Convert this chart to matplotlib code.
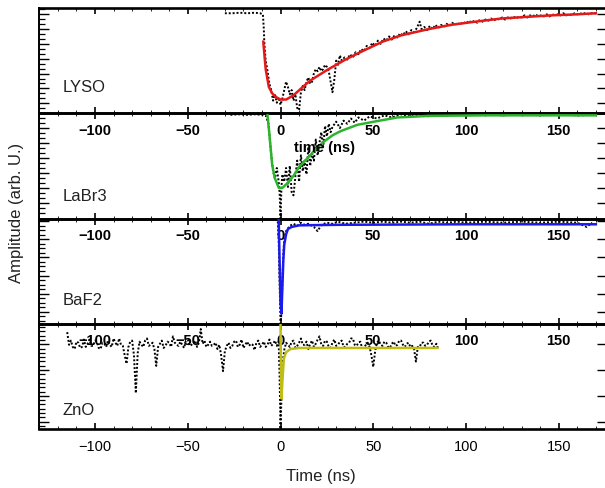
import matplotlib
matplotlib.use('Agg')
import matplotlib.pyplot as plt
import numpy as np
from matplotlib.ticker import FixedLocator, MultipleLocator

plt.rcParams['font.family'] = ['Liberation Sans', 'DejaVu Sans']

# ---------------- data (panel-normalised amplitude, 0 = bottom, 1 = top) ----------------
panel_names = ["LYSO", "LaBr3", "BaF2", "ZnO"]
x_ticks = [-100, -50, 0, 50, 100, 150]

lyso_t = [-30, -26, -22, -18, -14, -11, -9.5, -9, -8.7, -8, -7, -6, -5, -4, -3, -2, -1, 0, 1, 2, 3, 4, 5,
          6, 7, 8, 9, 10, 11, 12, 13, 14, 15, 16, 17, 18, 19, 20, 21, 22, 23, 24, 25, 26, 27, 28, 29, 30,
          31, 32,
          33, 34.5, 36, 37.5, 39, 40.5, 42, 43.5, 45, 46.5, 48, 49.5, 51, 52.5, 54, 55.5, 57, 58.5, 60,
          61.5, 63, 64.5, 66, 67.5, 69, 70.5, 72, 73.5, 75, 76, 77.5, 79, 80.5, 82, 83.5, 85, 86.5, 88,
          89.5, 91, 92.5, 94, 95.5, 97, 98.5, 100, 101.5, 103, 104.5, 106, 107.5, 109, 110.5, 112, 113.5,
          115, 116.5, 118, 119.5, 121, 122.5, 124, 125.5, 127, 128.5, 130, 131.5, 133, 134.5, 136, 137.5,
          139, 140.5, 142, 143.5, 145, 146.5, 148, 149.5, 151, 152.5, 154, 155.5, 157, 158.5, 160, 161.5,
          163, 164.5, 166, 167.5, 169, 170]
lyso_y = [0.95, 0.95, 0.955, 0.95, 0.955, 0.95, 0.94, 0.80, 0.66, 0.50, 0.40, 0.28, 0.22, 0.12, 0.18,
          0.10, 0.15, 0.08, 0.14, 0.22, 0.30, 0.25, 0.18, 0.22, 0.12, 0.18, 0.05, 0.03, 0.20, 0.26, 0.22,
          0.30, 0.34, 0.28, 0.30, 0.38, 0.42, 0.40, 0.44, 0.40, 0.42, 0.46, 0.44, 0.40, 0.30, 0.20, 0.32,
          0.50, 0.46, 0.55,
          0.50, 0.53, 0.51, 0.56, 0.53, 0.58, 0.56, 0.61, 0.59, 0.64, 0.62, 0.67, 0.64, 0.69, 0.66, 0.71,
          0.69, 0.73, 0.70, 0.74, 0.72, 0.76, 0.74, 0.78, 0.75, 0.79, 0.77, 0.81, 0.87, 0.80, 0.82, 0.79,
          0.83, 0.80, 0.84, 0.81, 0.84, 0.82, 0.85, 0.83, 0.86, 0.84, 0.86, 0.84, 0.87, 0.85, 0.88, 0.86,
          0.88, 0.86, 0.89, 0.87, 0.89, 0.88, 0.90, 0.88, 0.90, 0.89, 0.91, 0.89, 0.91, 0.90, 0.92, 0.90,
          0.92, 0.91, 0.93, 0.91, 0.93, 0.92, 0.94, 0.92, 0.93, 0.92, 0.94, 0.92, 0.94, 0.93, 0.94, 0.93,
          0.95, 0.93, 0.94, 0.93, 0.95, 0.94, 0.95, 0.94, 0.955, 0.94, 0.95, 0.945, 0.95]
lyso_fit_t = [-9.3, -8, -6.3, -4.5, -3, 0, 3, 7, 12, 16, 25, 35, 43, 55, 65, 80, 92, 105, 119, 132, 146, 160, 170]
lyso_fit_y = [0.68, 0.42, 0.25, 0.19, 0.16, 0.13, 0.13, 0.17, 0.25, 0.31, 0.41, 0.51, 0.58, 0.68, 0.74,
              0.80, 0.84, 0.87, 0.90, 0.915, 0.93, 0.94, 0.95]

labr_t = [-27, -22, -18, -14, -10, -8, -6.5, -5, -4, -3, -2, -1, -0.5, 0, 0.5, 1, 2, 3, 4, 5, 6, 7, 8, 9,
          10, 11, 12, 13, 14, 15, 16, 17, 18, 19, 20, 21, 22, 23, 24, 25, 26, 27, 28, 30, 32, 34, 36, 38,
          40, 42, 45, 48, 52, 56, 60, 65, 70, 75, 80, 85, 90, 95, 100, 110, 120, 130, 140, 150, 160, 170]
labr_y = [0.985, 0.99, 0.985, 0.99, 0.985, 0.98, 0.9, 0.6, 0.45, 0.38, 0.48, 0.35, 0.25, 0.0, 0.3, 0.42,
          0.35, 0.48, 0.3, 0.5, 0.25, 0.22, 0.4, 0.55, 0.35, 0.6, 0.45, 0.55, 0.42, 0.68, 0.5, 0.62, 0.55,
          0.75, 0.6, 0.72, 0.82, 0.68, 0.88, 0.78, 0.9, 0.82, 0.87, 0.92, 0.86, 0.93, 0.9, 0.95, 0.91, 0.96,
          0.93, 0.97, 0.95, 0.98, 0.96, 0.99, 0.97, 0.99, 0.97, 0.99, 0.98, 0.99, 0.98, 0.99, 0.98, 0.99,
          0.98, 0.99, 0.98, 0.985]
labr_fit_t = [-7, -6, -4.5, -3, -0.9, 0.9, 4, 7.2, 10, 14.4, 19, 23.4, 28, 32.4, 41.4, 50.4, 63, 80, 110, 140, 170]
labr_fit_y = [0.98, 0.80, 0.51, 0.38, 0.29, 0.29, 0.34, 0.41, 0.49, 0.57, 0.66, 0.73, 0.79, 0.83, 0.89,
              0.92, 0.96, 0.975, 0.98, 0.98, 0.98]

baf_t = [-3, -1.5, -1, -0.5, 0, 0.5, 1, 1.5, 2, 3, 5, 7, 9, 11, 13, 15, 18, 20, 22, 25, 28, 31, 35, 40,
         45, 50, 55, 60, 65, 70, 75, 80, 85, 90, 95, 100, 110, 120, 130, 140, 150, 160, 165, 168]
baf_y = [0.99, 0.98, 0.8, 0.4, 0.0, 0.1, 0.4, 0.65, 0.8, 0.88, 0.93, 0.95, 0.93, 0.96, 0.94, 0.95, 0.92,
         0.88, 0.94, 0.96, 0.95, 0.97, 0.95, 0.96, 0.97, 0.96, 0.97, 0.96, 0.97, 0.96, 0.97, 0.95, 0.97,
         0.96, 0.97, 0.96, 0.97, 0.96, 0.97, 0.96, 0.97, 0.96, 0.92, 0.96]
baf_fit_t = [-1.0, -0.5, 0, 0.5, 1, 1.5, 2, 3, 4, 6, 10, 30, 100, 170]
baf_fit_y = [1.0, 0.6, 0.2, 0.095, 0.35, 0.6, 0.75, 0.85, 0.9, 0.92, 0.935, 0.94, 0.945, 0.945]

# ZnO: one sample per ns before and after the pulse, plus the pulse itself
zno_t = list(range(-115, 0)) + [-0.5, 0, 0.5] + list(range(1, 86))
zno_y = [0.92, 0.80, 0.84, 0.78, 0.76, 0.83, 0.82, 0.77, 0.78, 0.85,
         0.78, 0.81, 0.85, 0.79, 0.79, 0.84, 0.83, 0.77, 0.76, 0.82,
         0.81, 0.78, 0.84, 0.80, 0.78, 0.86, 0.82, 0.79, 0.86, 0.80,
         0.79, 0.70, 0.62, 0.78, 0.83, 0.84, 0.70, 0.34, 0.72, 0.83,
         0.80, 0.78, 0.84, 0.86, 0.79, 0.80, 0.82, 0.76, 0.60, 0.78,
         0.81, 0.84, 0.77, 0.79, 0.83, 0.82, 0.78, 0.88, 0.82, 0.80,
         0.79, 0.83, 0.80, 0.77, 0.84, 0.85, 0.79, 0.80, 0.82, 0.84,
         0.78, 0.82, 0.95, 0.81, 0.84, 0.78, 0.80, 0.83, 0.79, 0.80,
         0.82, 0.76, 0.80, 0.70, 0.55, 0.74, 0.79, 0.82, 0.77, 0.79,
         0.83, 0.84, 0.78, 0.80, 0.85, 0.77, 0.80, 0.83, 0.79, 0.81,
         0.80, 0.75, 0.82, 0.84, 0.78, 0.80, 0.83, 0.78, 0.80, 0.85,
         0.79, 0.81, 0.84, 0.79, 0.83,
         0.5, 0.0, 0.3,
         0.6, 0.75, 0.82, 0.80, 0.78, 0.83, 0.84, 0.77, 0.79, 0.82,
         0.86, 0.80, 0.80, 0.83, 0.76, 0.81, 0.84, 0.78, 0.81, 0.85,
         0.88, 0.80, 0.79, 0.84, 0.83, 0.78, 0.77, 0.82, 0.85, 0.79,
         0.80, 0.83, 0.84, 0.78, 0.78, 0.81, 0.82, 0.86, 0.86, 0.80,
         0.79, 0.82, 0.83, 0.77, 0.77, 0.80, 0.82, 0.78, 0.70, 0.59,
         0.74, 0.82, 0.84, 0.80, 0.79, 0.83, 0.82, 0.78, 0.77, 0.81,
         0.83, 0.79, 0.80, 0.84, 0.84, 0.80, 0.78, 0.81, 0.82, 0.78,
         0.79, 0.76, 0.64, 0.78, 0.78, 0.82, 0.82, 0.79, 0.80, 0.83,
         0.84, 0.79, 0.78, 0.81, 0.76]
zno_fit_t = [0, 0.2, 0.5, 1, 1.8, 3, 5.4, 10, 30, 60, 84.6]
zno_fit_y = [1.0, 0.6, 0.29, 0.45, 0.67, 0.73, 0.76, 0.77, 0.77, 0.77, 0.77]

data = [(lyso_t, lyso_y, lyso_fit_t, lyso_fit_y),
        (labr_t, labr_y, labr_fit_t, labr_fit_y),
        (baf_t, baf_y, baf_fit_t, baf_fit_y),
        (zno_t, zno_y, zno_fit_t, zno_fit_y)]

# ---------------- style ----------------
fit_colors = ["#e41a1a", "#2db42d", "#1a1aee", "#bdbd14"]
ytick_offset = [0.094, 0.0, 0.114, 0.07]
ytick_step = [0.1415, 1 / 7, 0.172, 0.245]
ytick_sub = [3, 3, 4, 6]
label_y = [0.25, 0.22, 0.23, 0.19]

W, H = 605, 489
fig = plt.figure(figsize=(W / 100, H / 100), dpi=100)
top0 = 9.0
ph = 105.25
left_px = 39.0
width_px = 568.0

for i in range(4):
    top = top0 + i * ph
    ax = fig.add_axes([left_px / W, 1 - (top + ph) / H, width_px / W, ph / H])
    ax.patch.set_visible(False)
    t, y, ft, fy = data[i]
    ax.plot(t, y, color='black', linestyle=(0, (1, 1)), linewidth=1.4, zorder=2)
    ax.plot(ft, fy, color=fit_colors[i], linewidth=1.8, zorder=3)
    ax.set_xlim(-130.2, 176)
    ax.set_ylim(0, 1)
    ax.set_xticks(x_ticks)
    ax.xaxis.set_minor_locator(MultipleLocator(10))
    off, st, sub = ytick_offset[i], ytick_step[i], ytick_sub[i]
    majors = [v for v in np.arange(off, 1.0001, st)]
    minors = [v for v in np.arange(off - st, 1.0001, st / sub) if 0 <= v <= 1]
    ax.yaxis.set_major_locator(FixedLocator(majors))
    ax.yaxis.set_minor_locator(FixedLocator(minors))
    ax.set_yticklabels([])
    ax.tick_params(axis='y', which='major', direction='in', left=True, right=True, length=7, width=1.0)
    ax.tick_params(axis='y', which='minor', direction='in', left=True, right=False, length=4, width=0.9)
    ax.tick_params(axis='x', which='major', direction='in', top=True, bottom=True, length=4, width=1.2,
                   pad=7, labelsize=10.5)
    ax.tick_params(axis='x', which='minor', direction='in', top=True, bottom=True, length=2, width=0.6)
    for s in ax.spines.values():
        s.set_linewidth(1.9)
    ax.spines['left'].set_linewidth(1.4)
    if i < 3:
        for lab in ax.get_xticklabels():
            lab.set_fontweight('bold')
    ax.text(0.041, label_y[i], panel_names[i], transform=ax.transAxes, fontsize=12,
            va='center', ha='left', color='#222222')

fig.text(325 / W, 1 - 148 / H, "time (ns)", fontsize=10.5, fontweight='bold', ha='center', va='center')
fig.text(321 / W, 1 - 477 / H, "Time (ns)", fontsize=12, ha='center', va='center', color='#222222')
fig.text(17 / W, 1 - 213 / H, "Amplitude (arb. U.)", fontsize=12, rotation=90, ha='center', va='center',
         color='#222222')

fig.savefig("out.png", dpi=100)
